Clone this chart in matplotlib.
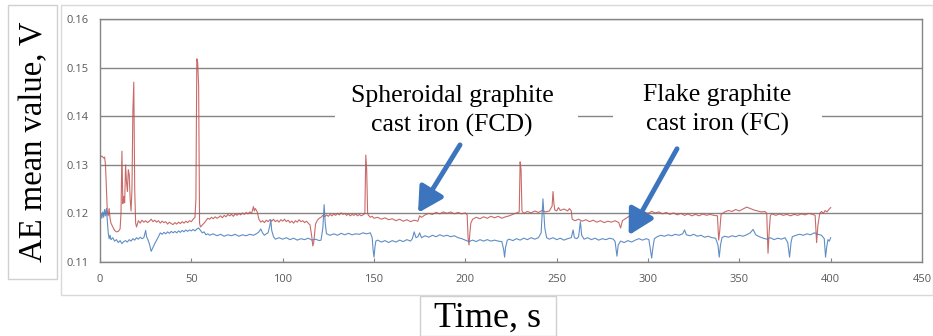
import matplotlib
matplotlib.use("Agg")
import matplotlib.pyplot as plt
from matplotlib.patches import Rectangle

# Spheroidal graphite cast iron (FCD) - red trace
fcd_time = [0, 1, 2, 2.5, 3, 3.5, 4, 4.5, 5, 5.5, 6, 7, 8, 9, 10, 11, 11.5, 12, 12.5, 13,
            13.5, 14, 14.5, 15, 15.5, 16, 16.5, 17, 17.5, 18, 18.5, 19, 19.5, 20, 21, 22, 23, 24, 25, 26,
            27, 28, 29, 30, 31, 32, 33, 34, 35, 36, 37, 38, 39, 40, 41, 42, 43, 44, 45, 46,
            47, 48, 49, 50, 51, 52, 52.5, 53, 53.5, 54, 54.5, 55, 56, 57, 58, 59, 60, 61, 62, 63,
            64, 65, 66, 67, 68, 69, 70, 71, 72, 73, 74, 75, 76, 77, 78, 79, 80, 81, 82, 83,
            84, 84.5, 85, 86, 87, 88, 89, 90, 91, 92, 93, 94, 95, 96, 97, 98, 99, 100, 101, 102,
            103, 104, 105, 106, 107, 108, 109, 110, 111, 112, 113, 114, 115, 116, 116.5, 117, 118, 119, 120, 121,
            122, 123, 124, 125, 126, 127, 128, 129, 130, 131, 132, 133, 134, 135, 136, 137, 138, 139, 140, 141,
            142, 143, 144, 145, 145.5, 146, 146.5, 147, 148, 149, 150, 152, 154, 156, 158, 160, 162, 164, 166, 168,
            170, 172, 174, 175, 176, 178, 180, 182, 184, 186, 188, 190, 192, 194, 196, 198, 200, 201, 201.5, 202,
            202.5, 203, 204, 206, 208, 210, 212, 214, 216, 218, 220, 222, 224, 226, 228, 229.5, 230, 230.5, 231, 232,
            234, 236, 238, 240, 242, 244, 246, 247.5, 248, 248.5, 249, 250, 251, 252, 254, 256, 257, 258, 258.5, 260,
            262, 264, 266, 268, 270, 272, 274, 276, 278, 280, 282, 284, 285, 286, 288, 290, 292, 294, 296, 298,
            300, 302, 304, 306, 308, 310, 312, 314, 316, 318, 320, 322, 324, 326, 328, 330, 332, 334, 336, 338,
            338.7, 339.3, 340, 342, 344, 346, 348, 350, 352, 354, 356, 358, 360, 362, 364, 365, 365.7, 366.3, 367, 368,
            370, 372, 374, 376, 378, 380, 382, 384, 386, 388, 390, 391.5, 392.3, 393, 394, 395, 396, 397, 398, 399,
            400]
fcd_value = [0.1315, 0.1318, 0.1314, 0.1316, 0.1300, 0.1250, 0.1205, 0.1195, 0.1210, 0.1190, 0.1180, 0.1172, 0.1165, 0.1162, 0.1163, 0.1168, 0.1200, 0.1328, 0.1220, 0.1235,
             0.1222, 0.1300, 0.1265, 0.1245, 0.1290, 0.1280, 0.1230, 0.1205, 0.1250, 0.1410, 0.1470, 0.1250, 0.1180, 0.1172, 0.1185, 0.1180, 0.1186, 0.1182, 0.1185, 0.1181,
             0.1184, 0.1188, 0.1183, 0.1186, 0.1182, 0.1185, 0.1180, 0.1184, 0.1181, 0.1183, 0.1178, 0.1182, 0.1179, 0.1177, 0.1181, 0.1178, 0.1182, 0.1179, 0.1183, 0.1180,
             0.1184, 0.1181, 0.1185, 0.1183, 0.1188, 0.1192, 0.1230, 0.1518, 0.1510, 0.1460, 0.1180, 0.1172, 0.1176, 0.1180, 0.1185, 0.1190, 0.1188, 0.1192, 0.1189, 0.1193,
             0.1190, 0.1192, 0.1195, 0.1191, 0.1196, 0.1193, 0.1198, 0.1195, 0.1198, 0.1194, 0.1199, 0.1196, 0.1200, 0.1197, 0.1201, 0.1198, 0.1202, 0.1199, 0.1203, 0.1200,
             0.1214, 0.1205, 0.1210, 0.1204, 0.1188, 0.1182, 0.1185, 0.1181, 0.1186, 0.1183, 0.1187, 0.1184, 0.1188, 0.1183, 0.1186, 0.1182, 0.1187, 0.1184, 0.1188, 0.1183,
             0.1186, 0.1181, 0.1184, 0.1180, 0.1185, 0.1182, 0.1187, 0.1183, 0.1185, 0.1181, 0.1184, 0.1180, 0.1176, 0.1150, 0.1133, 0.1140, 0.1178, 0.1186, 0.1190, 0.1192,
             0.1196, 0.1193, 0.1197, 0.1194, 0.1198, 0.1195, 0.1199, 0.1196, 0.1200, 0.1197, 0.1201, 0.1198, 0.1200, 0.1196, 0.1199, 0.1195, 0.1198, 0.1196, 0.1199, 0.1195,
             0.1198, 0.1195, 0.1197, 0.1200, 0.1320, 0.1290, 0.1200, 0.1196, 0.1192, 0.1194, 0.1190, 0.1192, 0.1188, 0.1191, 0.1187, 0.1189, 0.1185, 0.1188, 0.1184, 0.1187,
             0.1183, 0.1186, 0.1184, 0.1195, 0.1192, 0.1197, 0.1200, 0.1198, 0.1202, 0.1199, 0.1203, 0.1200, 0.1203, 0.1199, 0.1202, 0.1199, 0.1201, 0.1197, 0.1150, 0.1135,
             0.1160, 0.1180, 0.1188, 0.1192, 0.1189, 0.1193, 0.1190, 0.1194, 0.1191, 0.1194, 0.1190, 0.1193, 0.1195, 0.1198, 0.1201, 0.1203, 0.1306, 0.1290, 0.1205, 0.1200,
             0.1204, 0.1201, 0.1205, 0.1202, 0.1206, 0.1203, 0.1205, 0.1215, 0.1245, 0.1220, 0.1207, 0.1205, 0.1212, 0.1206, 0.1209, 0.1205, 0.1210, 0.1205, 0.1188, 0.1185,
             0.1188, 0.1184, 0.1187, 0.1183, 0.1186, 0.1182, 0.1185, 0.1181, 0.1184, 0.1182, 0.1185, 0.1181, 0.1170, 0.1185, 0.1190, 0.1195, 0.1198, 0.1202, 0.1199, 0.1203,
             0.1200, 0.1204, 0.1201, 0.1203, 0.1199, 0.1202, 0.1198, 0.1201, 0.1197, 0.1200, 0.1196, 0.1199, 0.1195, 0.1198, 0.1195, 0.1199, 0.1196, 0.1198, 0.1196, 0.1195,
             0.1145, 0.1165, 0.1198, 0.1203, 0.1206, 0.1204, 0.1208, 0.1205, 0.1209, 0.1213, 0.1210, 0.1207, 0.1205, 0.1203, 0.1204, 0.1200, 0.1118, 0.1160, 0.1196, 0.1199,
             0.1196, 0.1199, 0.1196, 0.1198, 0.1195, 0.1198, 0.1196, 0.1199, 0.1197, 0.1200, 0.1198, 0.1196, 0.1140, 0.1175, 0.1200, 0.1204, 0.1200, 0.1206, 0.1203, 0.1208,
             0.1212]

# Flake graphite cast iron (FC) - blue trace
fc_time = [0, 0.5, 1, 1.5, 2, 2.5, 3, 3.5, 4, 4.5, 5, 5.5, 6, 7, 8, 9, 10, 11, 12, 13,
           14, 15, 16, 17, 18, 19, 20, 21, 22, 23, 24, 25, 25.5, 26, 27, 28, 29, 30, 31, 32,
           33, 34, 35, 36, 37, 38, 39, 40, 41, 42, 43, 44, 45, 46, 47, 48, 49, 50, 51, 52,
           53, 54, 55, 56, 57, 58, 59, 60, 62, 64, 66, 68, 70, 72, 74, 76, 78, 80, 82, 84,
           86, 87, 88, 89, 90, 91, 92, 93, 93.5, 94, 95, 96, 98, 100, 102, 104, 106, 108, 110, 112,
           114, 116, 118, 120, 121, 122, 122.7, 123.3, 124, 126, 128, 130, 132, 134, 136, 138, 140, 142, 144, 146,
           148, 149, 149.5, 150, 150.5, 151, 152, 154, 156, 158, 160, 162, 164, 166, 168, 170, 171, 172, 173, 174,
           175, 176, 178, 180, 182, 184, 186, 188, 190, 192, 194, 196, 198, 200, 202, 204, 206, 208, 210, 212,
           214, 216, 218, 220, 221, 221.5, 222, 223, 224, 226, 228, 230, 232, 234, 236, 238, 240, 241.5, 242.5, 243.5,
           244.5, 246, 248, 250, 252, 254, 256, 258, 259, 259.7, 261, 262, 263, 263.7, 265, 267, 269, 271, 273, 275,
           277, 279, 281, 282, 283, 283.7, 285, 287, 289, 291, 293, 295, 297, 299, 300.5, 301.5, 302, 302.7, 303.5, 305,
           307, 309, 311, 313, 315, 317, 319, 320, 321, 323, 325, 327, 329, 331, 333, 335, 337, 338.3, 339, 339.7,
           340.5, 342, 344, 346, 348, 350, 352, 354, 356, 357.5, 359, 361, 363, 365, 367, 369, 371, 373, 375, 376.5,
           377.5, 378.3, 379, 381, 383, 385, 387, 389, 391, 393, 395, 396.5, 397.2, 397.8, 398.5, 399.3, 400]
fc_value = [0.1183, 0.1200, 0.1190, 0.1203, 0.1192, 0.1208, 0.1195, 0.1210, 0.1185, 0.1160, 0.1148, 0.1155, 0.1146, 0.1150, 0.1143, 0.1146, 0.1140, 0.1144, 0.1138, 0.1142,
            0.1144, 0.1141, 0.1146, 0.1143, 0.1148, 0.1145, 0.1150, 0.1147, 0.1151, 0.1148, 0.1150, 0.1165, 0.1152, 0.1148, 0.1138, 0.1122, 0.1130, 0.1138, 0.1145, 0.1152,
            0.1160, 0.1157, 0.1161, 0.1158, 0.1162, 0.1159, 0.1163, 0.1160, 0.1163, 0.1160, 0.1164, 0.1161, 0.1165, 0.1162, 0.1166, 0.1163, 0.1166, 0.1164, 0.1167, 0.1164,
            0.1168, 0.1170, 0.1165, 0.1160, 0.1162, 0.1156, 0.1158, 0.1155, 0.1158, 0.1154, 0.1157, 0.1153, 0.1156, 0.1154, 0.1157, 0.1153, 0.1156, 0.1154, 0.1157, 0.1155,
            0.1159, 0.1162, 0.1168, 0.1160, 0.1155, 0.1158, 0.1160, 0.1175, 0.1187, 0.1165, 0.1152, 0.1147, 0.1150, 0.1147, 0.1150, 0.1146, 0.1149, 0.1145, 0.1148, 0.1146,
            0.1149, 0.1145, 0.1147, 0.1144, 0.1145, 0.1170, 0.1218, 0.1180, 0.1158, 0.1155, 0.1158, 0.1155, 0.1159, 0.1156, 0.1159, 0.1156, 0.1158, 0.1157, 0.1160, 0.1158,
            0.1160, 0.1150, 0.1125, 0.1110, 0.1130, 0.1143, 0.1145, 0.1141, 0.1144, 0.1140, 0.1144, 0.1141, 0.1145, 0.1142, 0.1146, 0.1143, 0.1148, 0.1162, 0.1150, 0.1152,
            0.1160, 0.1150, 0.1154, 0.1151, 0.1155, 0.1152, 0.1156, 0.1153, 0.1155, 0.1152, 0.1154, 0.1150, 0.1148, 0.1145, 0.1142, 0.1145, 0.1142, 0.1146, 0.1143, 0.1146,
            0.1143, 0.1145, 0.1143, 0.1142, 0.1125, 0.1110, 0.1130, 0.1145, 0.1147, 0.1144, 0.1148, 0.1145, 0.1149, 0.1146, 0.1150, 0.1147, 0.1150, 0.1160, 0.1230, 0.1170,
            0.1150, 0.1147, 0.1150, 0.1146, 0.1149, 0.1145, 0.1148, 0.1150, 0.1166, 0.1150, 0.1148, 0.1152, 0.1183, 0.1155, 0.1147, 0.1150, 0.1146, 0.1149, 0.1145, 0.1148,
            0.1146, 0.1149, 0.1147, 0.1142, 0.1112, 0.1135, 0.1143, 0.1140, 0.1144, 0.1141, 0.1145, 0.1148, 0.1145, 0.1148, 0.1146, 0.1120, 0.1108, 0.1130, 0.1148, 0.1152,
            0.1155, 0.1153, 0.1156, 0.1154, 0.1157, 0.1155, 0.1158, 0.1166, 0.1156, 0.1154, 0.1157, 0.1153, 0.1155, 0.1151, 0.1153, 0.1150, 0.1149, 0.1135, 0.1110, 0.1135,
            0.1150, 0.1153, 0.1151, 0.1154, 0.1152, 0.1155, 0.1153, 0.1156, 0.1160, 0.1167, 0.1156, 0.1152, 0.1149, 0.1147, 0.1150, 0.1146, 0.1149, 0.1147, 0.1150, 0.1140,
            0.1110, 0.1140, 0.1152, 0.1155, 0.1157, 0.1155, 0.1158, 0.1156, 0.1160, 0.1157, 0.1155, 0.1148, 0.1110, 0.1130, 0.1146, 0.1143, 0.1150]

x_ticks = [0, 50, 100, 150, 200, 250, 300, 350, 400, 450]
y_ticks = [0.11, 0.12, 0.13, 0.14, 0.15, 0.16]

W, H = 933, 336


def fx(px):
    return px / W


def fy(py):
    return 1 - py / H


fig = plt.figure(figsize=(9.33, 3.36), dpi=100)
fig.patch.set_facecolor("white")

# chart area frame and axis-title boxes
fig.patches.append(Rectangle((fx(61), fy(295)), fx(933 - 61), (295 - 5) / H,
                             transform=fig.transFigure, fill=False, edgecolor="#d9d9d9", lw=1))
fig.patches.append(Rectangle((fx(8), fy(279)), fx(49), (279 - 5) / H,
                             transform=fig.transFigure, facecolor="white", edgecolor="#d0d0d0", lw=1))
fig.patches.append(Rectangle((fx(420), fy(336)), fx(136), (336 - 296) / H,
                             transform=fig.transFigure, facecolor="white", edgecolor="#d0d0d0", lw=1))

ax = fig.add_axes([fx(100), fy(262), fx(922 - 100), (262 - 19) / H])
ax.plot(fcd_time, fcd_value, color="#C0504D", lw=0.8, alpha=0.85)
ax.plot(fc_time, fc_value, color="#4F81BD", lw=0.8, alpha=0.9)

ax.set_xlim(0, 450)
ax.set_ylim(0.11, 0.16)
ax.set_xticks(x_ticks)
ax.set_yticks(y_ticks)
ax.set_yticklabels([f"{v:.2f}" for v in y_ticks])
ax.yaxis.grid(True, color="#858585", lw=1)
ax.set_axisbelow(True)
for s in ax.spines.values():
    s.set_color("#858585")
    s.set_linewidth(1)
ax.tick_params(axis="x", direction="in", length=3, color="#858585", labelsize=8,
               labelcolor="#595959", pad=9)
ax.tick_params(axis="y", length=0, labelsize=8, labelcolor="#595959", pad=8)
for lab in ax.get_xticklabels() + ax.get_yticklabels():
    lab.set_family("Open Sans")

# annotation boxes (white background hiding gridlines)
ax.add_patch(Rectangle(((335 - 100) / 822, 1 - (145 - 19) / 243), (578 - 335) / 822, (145 - 80) / 243,
                       transform=ax.transAxes, facecolor="white", edgecolor="none", zorder=3))
ax.add_patch(Rectangle(((613 - 100) / 822, 1 - (145 - 19) / 243), (822 - 613) / 822, (145 - 80) / 243,
                       transform=ax.transAxes, facecolor="white", edgecolor="none", zorder=3))

ax.text((452 - 100) / 822, 1 - (111 - 19) / 243, "Spheroidal graphite\ncast iron (FCD)",
        transform=ax.transAxes, ha="center", va="center", family="Liberation Serif",
        fontsize=18.5, linespacing=1.4, zorder=4)
ax.text((717 - 100) / 822, 1 - (110 - 19) / 243, "Flake graphite\ncast iron (FC)",
        transform=ax.transAxes, ha="center", va="center", family="Liberation Serif",
        fontsize=18.5, linespacing=1.4, zorder=4)

arrow_style = dict(arrowstyle="-|>,head_width=0.55,head_length=1.0", color="#3C74BE",
                   lw=3.5, shrinkA=0, shrinkB=0, mutation_scale=15)
ax.annotate("", xy=(174.1, 0.1201), xytext=(197.1, 0.1341), arrowprops=arrow_style, zorder=5)
ax.annotate("", xy=(289.4, 0.1155), xytext=(315.9, 0.1333), arrowprops=arrow_style, zorder=5)

fig.text(fx(34), fy(142), "AE mean value, V", rotation=90, ha="center", va="center",
         family="Liberation Serif", fontsize=23.5)
fig.text(fx(488), fy(318), "Time, s", ha="center", va="center",
         family="Liberation Serif", fontsize=26)

fig.savefig("out.png", dpi=100, facecolor="white")
